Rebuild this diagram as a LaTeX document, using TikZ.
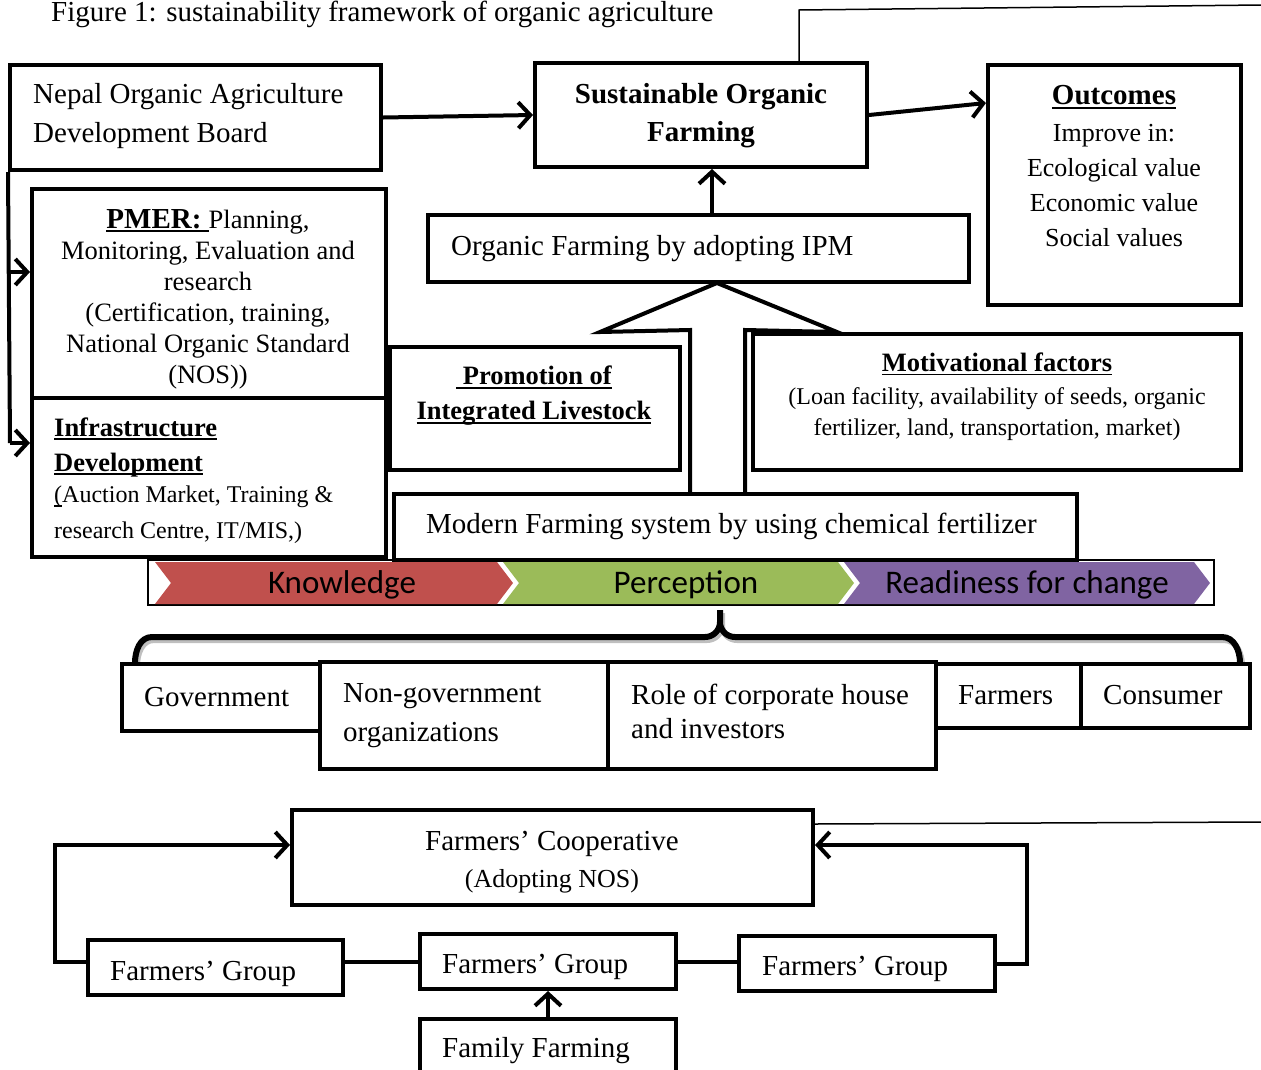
\documentclass[tikz,border=0pt]{standalone}
\usepackage{fontspec}
\setmainfont{Liberation Serif}
\newfontfamily\calfont{Carlito}
\newcommand\myul[1]{\leavevmode\setbox0\hbox{#1}\rlap{\rule[-4pt]{\wd0}{1.8pt}}\box0}
\usetikzlibrary{arrows.meta,calc}
\definecolor{kred}{HTML}{C0504D}
\definecolor{kgreen}{HTML}{9BBB59}
\definecolor{kpurple}{HTML}{8064A2}
\newcommand\mybox[5]{\node[box, minimum width={#4-#2}, minimum height={#5-#3}] (#1) at ({(#2+#4)/2},{(#3+#5)/2}) {};}
\begin{document}
\begin{tikzpicture}[x=1pt,y=-1pt,
  box/.style={draw, line width=4pt, rectangle, inner sep=0pt, fill=white},
  txt/.style={inner sep=0pt, font=\fontsize{29}{39}\selectfont},
  conn/.style={line width=4pt, -{Straight Barb[length=12pt,width=26pt]}},
  link/.style={line width=4pt},
  thinl/.style={line width=1.5pt},
  ]
\useasboundingbox (0,0) rectangle (1261,1069);

% title
\node[txt, anchor=base west] (title) at (51,21) {Figure 1: sustainability framework of organic agriculture};

% thin line top right
\coordinate (tl) at (799,10);
\coordinate (tr) at (1261,5);

% boxes top
\mybox{noadb}{10}{65}{381}{170}
\mybox{sof}{535}{63}{867}{167}
\mybox{outc}{988}{65}{1241}{305}
\draw[thinl] (tl |- sof.north) -- (tl) -- (tr);

% big hollow arrow
\draw[line width=4pt, fill=white, line join=miter]
  (690,495) -- (690,330) -- (600,332) -- (717,283) -- (837,332) -- (745,330) -- (745,495);

\mybox{ipm}{428}{215}{969}{282}
\mybox{pmer}{32}{189}{386}{398}
\mybox{infra}{32}{398}{386}{557}
\mybox{promo}{390}{347}{680}{470}
\mybox{motiv}{753}{334}{1241}{470}
\mybox{modern}{394}{494}{1077}{560}

% arrows top
\draw[conn] (noadb.east) -- (sof.west);
\draw[conn] (sof.east) -- ($(outc.north west)+(0,40)$);
\coordinate (ax) at (712,0);
\draw[conn] (ax |- ipm.north) -- (ax |- sof.south);

% left bracket
\coordinate (lb) at (10,443);
\coordinate (lb2) at (10,272);
\draw[link] (noadb.south west) -- (lb);
\draw[conn] (lb) -- (lb -| infra.west);
\draw[conn] (lb2) -- (lb2 -| pmer.west);

% texts top
\node[txt, anchor=west, align=left] (noadb-t) at (33,116) {Nepal Organic Agriculture\\Development Board};
\node[txt, align=center, font=\bfseries\fontsize{29}{38}\selectfont] (sof-t) at (701,116) {Sustainable Organic\\Farming};
\node[txt, font=\bfseries\fontsize{29}{35}\selectfont] (outc-h) at (1114,97) {\myul{Outcomes}};
\node[txt, align=center, font=\fontsize{26}{35}\selectfont] (outc-t) at (1114,186) {Improve in:\\Ecological value\\Economic value\\Social values};
\node[txt, anchor=west] (ipm-t) at (451,249) {Organic Farming by adopting IPM};
\node[txt, align=center, font=\fontsize{26.5}{31}\selectfont] (pmer-t) at (208,299) {{\bfseries\fontsize{29}{31}\selectfont\myul{PMER:\ }}Planning,\\Monitoring, Evaluation and\\research\\(Certification, training,\\National Organic Standard\\(NOS))};
\node[txt, anchor=west, align=left, font=\bfseries\fontsize{26.5}{35}\selectfont] (infra-h) at (54,447) {\myul{Infrastructure}\\\myul{Development}};
\node[txt, anchor=west, align=left, font=\fontsize{24}{36}\selectfont] (infra-t) at (54,515) {\myul{(}Auction Market, Training \&\\research Centre, IT/MIS,)};
\node[txt, align=center, font=\bfseries\fontsize{26.5}{35}\selectfont] (promo-t) at (534,396) {\myul{\ Promotion of}\\\myul{Integrated Livestock}};
\node[txt, font=\bfseries\fontsize{26.5}{35}\selectfont] (motiv-h) at (997,364) {\myul{Motivational factors}};
\node[txt, align=center, font=\fontsize{24}{31}\selectfont] (motiv-t) at (997,414) {(Loan facility, availability of seeds, organic\\fertilizer, land, transportation, market)};
\node[txt, anchor=west] (modern-t) at (426,526) {Modern Farming system by using chemical fertilizer};

% chevron band
\draw[thinl] (148,560) rectangle (1214,605);
\fill[kred] (155,562) -- (497,562) -- (513,583) -- (497,604) -- (155,604) -- (171,583) -- cycle;
\fill[kgreen] (503,562) -- (838,562) -- (854,583) -- (838,604) -- (503,604) -- (519,583) -- cycle;
\fill[kpurple] (844,562) -- (1194,562) -- (1210,583) -- (1194,604) -- (844,604) -- (860,583) -- cycle;
\node[txt, font=\calfont\fontsize{33}{36}\selectfont] (know) at (342,585) {Knowledge};
\node[txt, font=\calfont\fontsize{33}{36}\selectfont] (perc) at (686,585) {Perception};
\node[txt, font=\calfont\fontsize{33}{36}\selectfont] (ready) at (1027,585) {Readiness for change};

% brace
\begin{scope}[shift={(2,3)}]
\draw[line width=6pt, black!25, line join=round]
  (135,663) to[out=90,in=180] (152,637) -- (705,637) to[out=0,in=-90] (720,622) -- (720,610);
\draw[line width=6pt, black!25, line join=round]
  (720,622) to[out=-90,in=180] (735,637) -- (1222,637) to[out=0,in=90] (1240,663);
\end{scope}
\draw[line width=6pt, line join=round]
  (135,663) to[out=90,in=180] (152,637) -- (705,637) to[out=0,in=-90] (720,622) -- (720,610);
\draw[line width=6pt, line join=round]
  (720,622) to[out=-90,in=180] (735,637) -- (1222,637) to[out=0,in=90] (1240,663);

% stakeholder boxes
\mybox{gov}{122}{664}{320}{731}
\mybox{ngo}{320}{662}{608}{769}
\mybox{role}{608}{662}{936}{769}
\mybox{farm}{936}{664}{1081}{728}
\mybox{cons}{1081}{664}{1250}{728}
\node[txt, anchor=west] (gov-t) at (144,697) {Government};
\node[txt, anchor=west, align=left] (ngo-t) at (343,716) {Non-government\\organizations};
\node[txt, anchor=west, align=left, font=\fontsize{29}{34}\selectfont] (role-t) at (631,711) {Role of corporate house\\and investors};
\node[txt, anchor=west] (farm-t) at (958,695) {Farmers};
\node[txt, anchor=west] (cons-t) at (1103,695) {Consumer};

% bottom part
\mybox{coop}{292}{810}{813}{905}
\mybox{fgL}{88}{940}{343}{995}
\mybox{fgM}{420}{934}{676}{989}
\mybox{fgR}{739}{936}{995}{991}
\mybox{ff}{420}{1019}{676}{1095}
\draw[thinl] ($(coop.north east)+(0,16)$) -- (1261,822);
\node[txt] (coop-h) at (552,844) {Farmers’ Cooperative};
\node[txt, font=\fontsize{26}{30}\selectfont] (coop-t) at (552,881) {(Adopting NOS)};
\node[txt, anchor=west] (fgL-t) at (110,974) {Farmers’ Group};
\node[txt, anchor=west] (fgM-t) at (442,967) {Farmers’ Group};
\node[txt, anchor=west] (fgR-t) at (762,969) {Farmers’ Group};
\node[txt, anchor=west] (ff-t) at (442,1051) {Family Farming};

\draw[link] (fgM.west) -- (fgM.west -| fgL.east);
\draw[link] (fgM.east) -- (fgM.east -| fgR.west);
\coordinate (lp) at (55,845);
\coordinate (rp) at (1027,845);
\draw[conn] (fgL.west |- fgM.west) -| (lp) -- (lp -| coop.west);
\draw[conn] (fgR.east) -| (rp) -- (rp -| coop.east);
\draw[conn] (ff.north) -- (fgM.south);
\end{tikzpicture}
\end{document}
